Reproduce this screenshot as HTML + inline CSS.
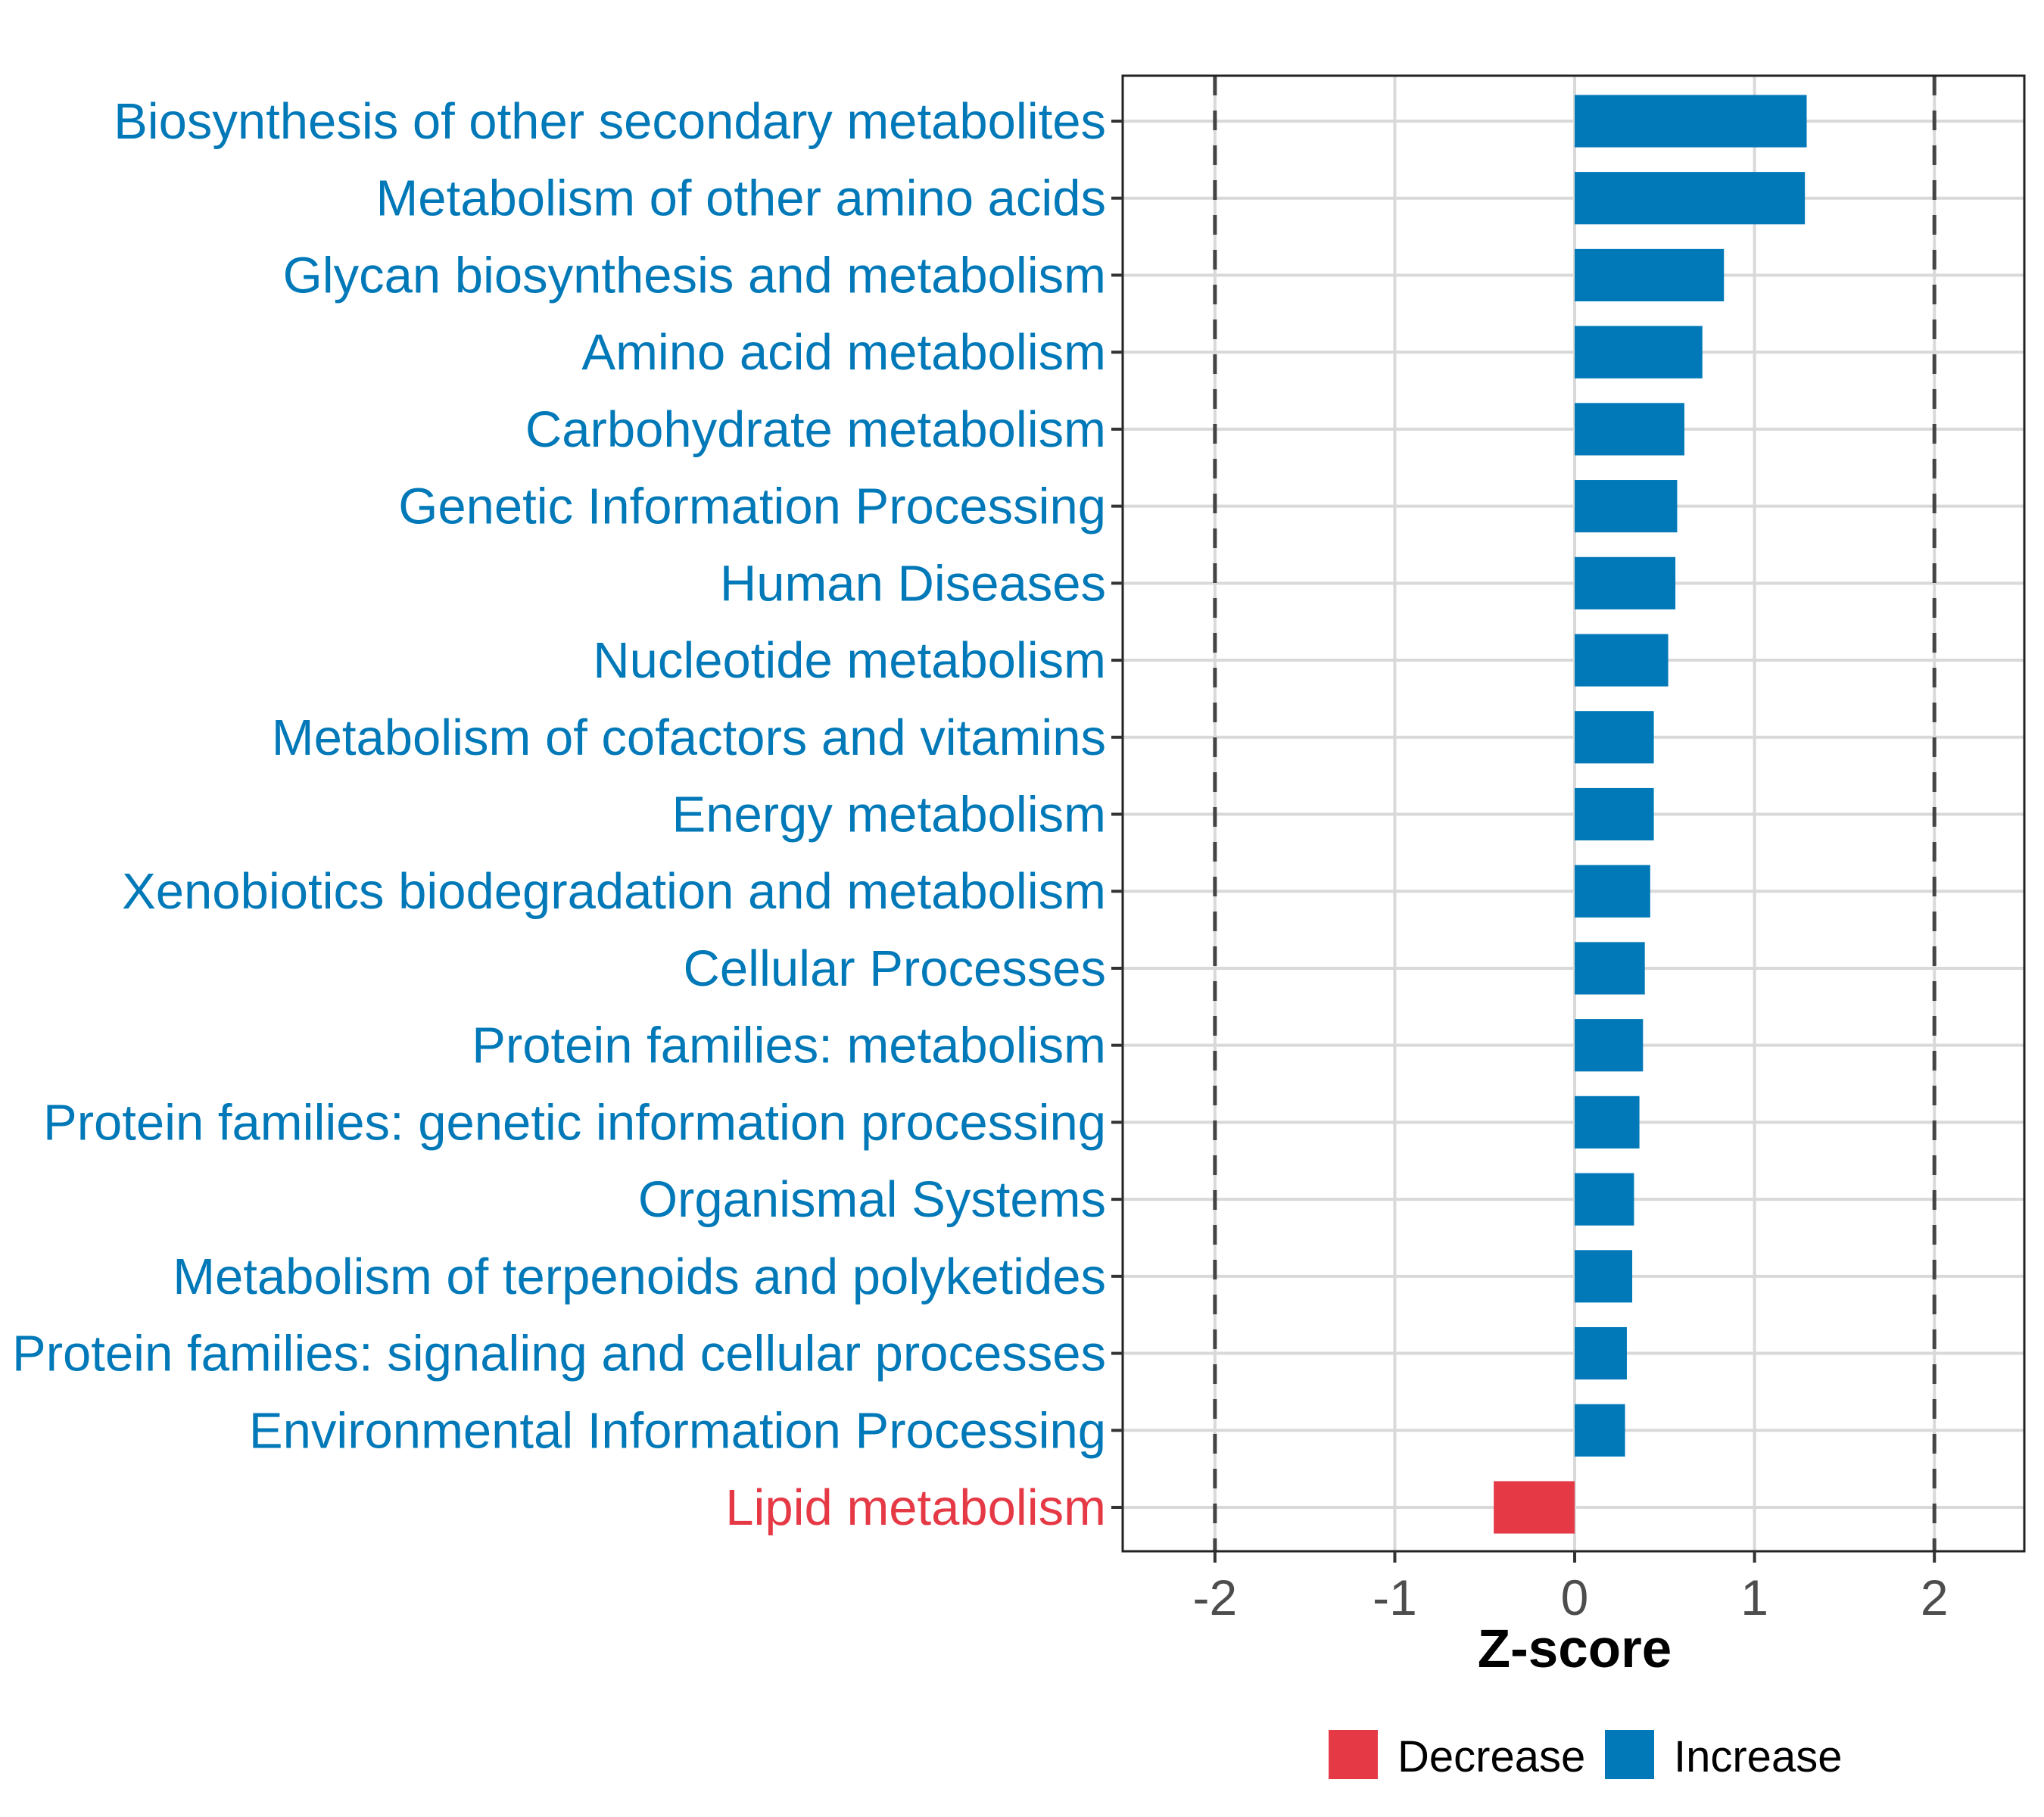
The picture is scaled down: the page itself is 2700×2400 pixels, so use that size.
<!DOCTYPE html>
<html><head><meta charset="utf-8"><style>
html,body{margin:0;padding:0;background:#fff;}
svg{display:block;font-family:"Liberation Sans",Arial,sans-serif;}
</style></head><body>
<svg id="chart" width="2700" height="2400" viewBox="0 0 2700 2400" xmlns="http://www.w3.org/2000/svg">
<rect x="0" y="0" width="2700" height="2400" fill="#fff"/>
<g id="grid"></g>
<g id="bars"></g>
<g id="refs"></g>
<rect x="1483" y="100" width="1191" height="1949" fill="none" stroke="#222" stroke-width="3"/>
<g id="ylabels"></g>
<g id="xaxis"></g>
<text x="2080" y="2202" text-anchor="middle" font-size="71" font-weight="bold" fill="#000">Z-score</text>
<g>
<rect x="1755" y="2285" width="65" height="65" fill="#E63946"/>
<text x="1846" y="2340" font-size="58" fill="#000">Decrease</text>
<rect x="2120" y="2285" width="65" height="65" fill="#0179B8"/>
<text x="2211" y="2340" font-size="58" fill="#000">Increase</text>
</g>
</svg>
<script>
const categories = ["Biosynthesis of other secondary metabolites","Metabolism of other amino acids","Glycan biosynthesis and metabolism","Amino acid metabolism","Carbohydrate metabolism","Genetic Information Processing","Human Diseases","Nucleotide metabolism","Metabolism of cofactors and vitamins","Energy metabolism","Xenobiotics biodegradation and metabolism","Cellular Processes","Protein families: metabolism","Protein families: genetic information processing","Organismal Systems","Metabolism of terpenoids and polyketides","Protein families: signaling and cellular processes","Environmental Information Processing","Lipid metabolism"];
const zscores = [1.29,1.28,0.83,0.71,0.61,0.57,0.56,0.52,0.44,0.44,0.42,0.39,0.38,0.36,0.33,0.32,0.29,0.28,-0.45];
const xTicks = [-2,-1,0,1,2];
const refLines = [-2,2];

const NS="http://www.w3.org/2000/svg";
const L=1483,R=2674,T=100,B=2049;
const xMin=-2.513,xMax=2.5;
const x=v=>L+(v-xMin)/(xMax-xMin)*(R-L);
const y0=160,y1=1991;
const step=(y1-y0)/(categories.length-1);
const y=i=>y0+i*step;
const bh=step*0.68;
function mk(tag,attrs,parent){const e=document.createElementNS(NS,tag);for(const k in attrs)e.setAttribute(k,attrs[k]);parent.appendChild(e);return e;}
const grid=document.getElementById('grid'),bars=document.getElementById('bars'),refs=document.getElementById('refs'),yl=document.getElementById('ylabels'),xa=document.getElementById('xaxis');
xTicks.forEach(t=>{
  const g=mk('line',{x1:x(t),x2:x(t),y1:T,y2:B,stroke:'#D9D9D9','stroke-width':4},grid);
  
  
  const tk=mk('line',{x1:x(t),x2:x(t),y1:B,y2:B+15,stroke:'#333','stroke-width':4},xa);
  
  
  const tl=mk('text',{x:x(t),y:B+84,'text-anchor':'middle','font-size':66,fill:'#4D4D4D'},xa);
  tl.textContent=String(t);
  
  
});
categories.forEach((c,i)=>{
  const v=zscores[i];
  const col=v<0?'#E63946':'#0179B8';
  const gl=mk('line',{x1:L,x2:R,y1:y(i),y2:y(i),stroke:'#D9D9D9','stroke-width':4},grid);
  
  
  const r=mk('rect',{x:Math.min(x(0),x(v)),y:y(i)-bh/2,width:Math.abs(x(v)-x(0)),height:bh,fill:col},bars);
  
  
  const tk=mk('line',{x1:L-15,x2:L,y1:y(i),y2:y(i),stroke:'#333','stroke-width':4},yl);
  
  
  const t=mk('text',{x:1461,y:y(i)+23,'text-anchor':'end','font-size':67,fill:col},yl);
  t.textContent=c;
  
  
});
refLines.forEach(v=>{
  const l=mk('line',{x1:x(v),x2:x(v),y1:T,y2:B,stroke:'#444','stroke-width':5,'stroke-dasharray':'26,20'},refs);
  
  
});
</script>
</body></html>
